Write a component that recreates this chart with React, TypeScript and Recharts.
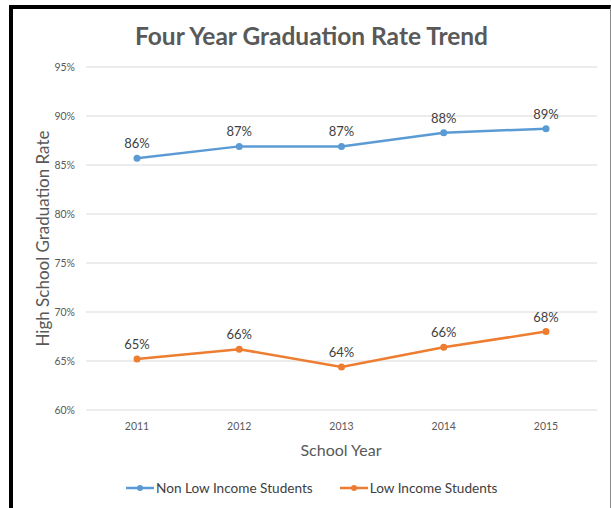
import { LineChart, Line, XAxis, YAxis, CartesianGrid, LabelList, Legend } from 'recharts';

const years = ['2011', '2012', '2013', '2014', '2015'];
const nonLowIncome = [85.7, 86.9, 86.9, 88.3, 88.7];
const lowIncome = [65.2, 66.2, 64.4, 66.4, 68.0];
const yTicks = [60, 65, 70, 75, 80, 85, 90, 95];

const SERIES = [
  { key: 'nonLow', label: 'Non Low Income Students', color: '#5B9BD5' },
  { key: 'low', label: 'Low Income Students', color: '#ED7D31' },
] as const;

const data = years.map((y, i) => ({ year: y, nonLow: nonLowIncome[i], low: lowIncome[i] }));

const FONT = 'Lato, "Open Sans", sans-serif';

function LegendContent() {
  return (
    <div style={{ display: 'flex', alignItems: 'center', marginLeft: 126, fontFamily: FONT, fontSize: 13.6, color: '#404040' }}>
      {SERIES.map((s, i) => (
        <div key={s.key} style={{ display: 'flex', alignItems: 'center', marginLeft: i === 0 ? 0 : 27 }}>
          <svg width={28} height={10} style={{ marginRight: 2 }}>
            <line x1={0} y1={5} x2={28} y2={5} stroke={s.color} strokeWidth={2.5} />
            <circle cx={14} cy={5} r={3} fill={s.color} />
          </svg>
          <span>{s.label}</span>
        </div>
      ))}
    </div>
  );
}

export default function App() {
  return (
    <div style={{ position: 'absolute', left: 0, top: 0, width: 611, height: 508, background: '#fff' }}>
      <div
        style={{
          position: 'absolute',
          left: 9,
          top: 5,
          width: 602,
          height: 503,
          boxSizing: 'border-box',
          borderTop: '4px solid #000',
          borderLeft: '4px solid #000',
          borderRight: '1px solid #8a8a8a',
        }}
      />
      <div
        style={{
          position: 'absolute',
          left: 0,
          top: 22,
          width: 623,
          textAlign: 'center',
          fontFamily: FONT,
          fontWeight: 700,
          fontSize: 24.5,
          color: '#595959',
          lineHeight: '28px',
        }}
      >
        Four Year Graduation Rate Trend
      </div>
      <div style={{ position: 'absolute', left: 0, top: 0 }}>
        <LineChart width={611} height={508} data={data} margin={{ top: 67, right: 14, bottom: 68, left: 0 }}>
          <CartesianGrid vertical={false} stroke="#D9D9D9" />
          <XAxis
            dataKey="year"
            height={30}
            padding={{ left: 51, right: 51 }}
            axisLine={false}
            tickLine={false}
            tickSize={0}
            tickMargin={13}
            tick={{ fill: '#595959', fontSize: 10.5, fontFamily: FONT }}
            label={{
              content: (props: any) => {
                const vb = props.viewBox;
                return (
                  <text
                    x={341}
                    y={vb.y + 39}
                    textAnchor="middle"
                    dominantBaseline="central"
                    fill="#595959"
                    fontSize={16}
                    fontFamily={FONT}
                  >
                    School Year
                  </text>
                );
              },
            }}
          />
          <YAxis
            width={86}
            domain={[60, 95]}
            ticks={yTicks}
            axisLine={false}
            tickLine={false}
            tickSize={0}
            tickMargin={11}
            tickFormatter={(v) => `${v}%`}
            tick={{ fill: '#595959', fontSize: 10.5, fontFamily: FONT }}
            label={{
              content: (props: any) => {
                const vb = props.viewBox;
                const cx = 42;
                const cy = vb.y + vb.height / 2;
                return (
                  <text
                    x={cx}
                    y={cy}
                    transform={`rotate(-90, ${cx}, ${cy})`}
                    textAnchor="middle"
                    dominantBaseline="central"
                    fill="#595959"
                    fontSize={17}
                    fontFamily={FONT}
                  >
                    High School Graduation Rate
                  </text>
                );
              },
            }}
          />
          <Legend
            layout="horizontal"
            verticalAlign="middle"
            align="center"
            wrapperStyle={{ top: 480, left: 0, width: 611 }}
            content={() => <LegendContent />}
          />
          {SERIES.map((s) => (
            <Line
              key={s.key}
              dataKey={s.key}
              name={s.label}
              type="linear"
              stroke={s.color}
              strokeWidth={2.5}
              dot={{ r: 3.5, fill: s.color, stroke: s.color, strokeWidth: 0 }}
              isAnimationActive={false}
            >
              <LabelList
                dataKey={s.key}
                position="top"
                offset={10}
                formatter={(v: any) => `${Math.round(v)}%`}
                style={{ fill: '#404040', fontSize: 13, fontFamily: FONT }}
              />
            </Line>
          ))}
        </LineChart>
      </div>
    </div>
  );
}
